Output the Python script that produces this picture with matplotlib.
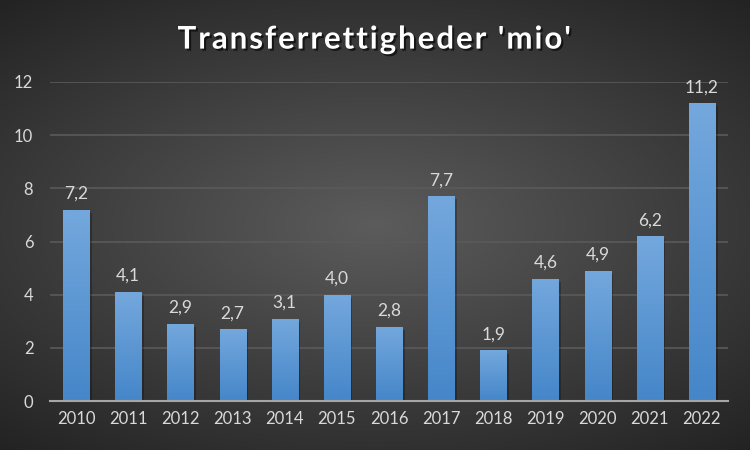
import matplotlib
matplotlib.use("Agg")
import matplotlib.pyplot as plt
import matplotlib.patheffects as pe
import numpy as np

years = ["2010", "2011", "2012", "2013", "2014", "2015", "2016",
         "2017", "2018", "2019", "2020", "2021", "2022"]
values = [7.2, 4.1, 2.9, 2.7, 3.1, 4.0, 2.8, 7.7, 1.9, 4.6, 4.9, 6.2, 11.2]
yticks = [0, 2, 4, 6, 8, 10, 12]
title = "Transferrettigheder 'mio'"

plt.rcParams['font.family'] = ['Lato', 'DejaVu Sans']

fig = plt.figure(figsize=(7.5, 4.5), dpi=100)

# radial gradient background
bg = fig.add_axes([0, 0, 1, 1], zorder=-10)
yy, xx = np.mgrid[-1:1:300j, -1:1:500j]
r = np.sqrt((xx * 0.85) ** 2 + (yy * 1.0) ** 2)
shade = np.clip(0.36 - 0.17 * r, 0.13, 0.36)
bg.imshow(np.dstack([shade, shade, shade]), aspect='auto', extent=[0, 1, 0, 1])
bg.set_axis_off()

ax = fig.add_axes([50 / 750, 49 / 450, 678 / 750, 319 / 450])
ax.set_facecolor('none')
x = np.arange(len(years))
bars = ax.bar(x, values, width=0.5, color='#5b9bd5', zorder=3)

# gradient fill for each bar
grad = np.linspace(0, 1, 256).reshape(-1, 1)
top = np.array([0x74, 0xa8, 0xdd]) / 255
bot = np.array([0x45, 0x86, 0xc9]) / 255
img = top * (1 - grad[..., None]) + bot * grad[..., None]
img = img.reshape(256, 1, 3)
for b in bars:
    bx, by = b.get_x(), b.get_y()
    w, h = b.get_width(), b.get_height()
    # shadow
    ax.bar(bx + w / 2 + 0.05, h, width=w, bottom=-0.12, color='black',
           alpha=0.25, zorder=2)
    im = ax.imshow(img, extent=[bx, bx + w, by, by + h], aspect='auto', zorder=4)
    im.set_clip_path(b)
    ax.text(bx + w / 2, h + 0.3, f"{h:.1f}".replace('.', ','), ha='center',
            va='bottom', color='#d9d9d9', fontsize=12.5, zorder=5)

ax.set_xlim(-0.5, len(years) - 0.5)
ax.set_ylim(0, 12)
ax.set_yticks(yticks)
ax.set_xticks(x)
ax.set_xticklabels(years)
ax.tick_params(colors='#d9d9d9', labelsize=12, length=0)
ax.tick_params(axis='y', pad=12)
ax.tick_params(axis='x', pad=7)
ax.grid(axis='y', color='#5a5a5a', linewidth=1.2, zorder=0)
for s in ['top', 'right', 'left']:
    ax.spines[s].set_visible(False)
ax.spines['bottom'].set_color('#a6a6a6')
ax.spines['bottom'].set_linewidth(1.5)
ax.spines['bottom'].set_zorder(6)

spaced = "\u200a".join(title)
fig.text(0.5, 0.912, spaced, ha='center', va='center',
         color='white', fontsize=22.5, fontweight='bold',
         path_effects=[pe.withSimplePatchShadow(offset=(1.5, -1.5),
                                                shadow_rgbFace='black', alpha=0.6)])

fig.savefig("out.png", dpi=100)
